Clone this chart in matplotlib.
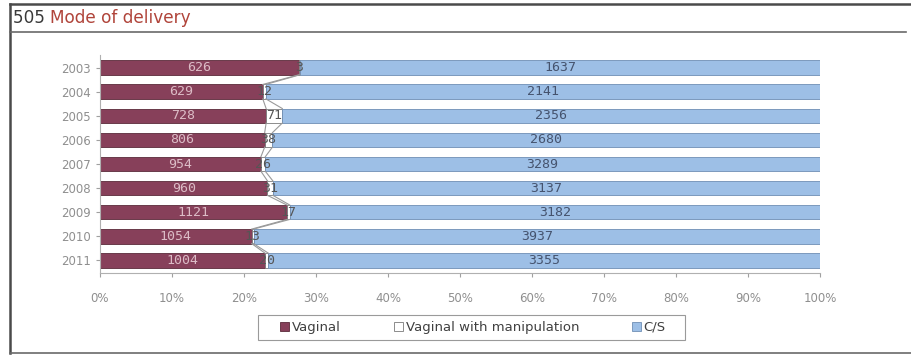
import matplotlib
matplotlib.use("Agg")
import matplotlib.pyplot as plt
import numpy as np
from matplotlib.lines import Line2D
from matplotlib.patches import Patch, Rectangle

years = ["2003", "2004", "2005", "2006", "2007", "2008", "2009", "2010", "2011"]
vaginal = [626, 629, 728, 806, 954, 960, 1121, 1054, 1004]
manipulation = [3, 12, 71, 38, 26, 31, 17, 13, 20]
cs = [1637, 2141, 2356, 2680, 3289, 3137, 3182, 3937, 3355]
x_ticks = [0, 10, 20, 30, 40, 50, 60, 70, 80, 90, 100]
x_tick_labels = [f"{v}%" for v in x_ticks]

c_vag = "#87405a"
c_man = "#ffffff"
c_cs = "#9dbfe6"
edge = "#7a7a7a"

W, H = 912, 355
fig = plt.figure(figsize=(W / 100, H / 100), dpi=100)
fig.patch.set_facecolor("white")

ax = fig.add_axes([100 / W, 1 - 272.5 / H, 720 / W, 217 / H])

v = np.array(vaginal, float)
m = np.array(manipulation, float)
c = np.array(cs, float)
tot = v + m + c
pv, pm, pc = v / tot * 100, m / tot * 100, c / tot * 100
y = np.arange(len(years))
h = 0.6

ax.barh(y, pv, height=h, color=c_vag, edgecolor="#5a2a3a", linewidth=0.6)
ax.barh(y, pm, left=pv, height=h, color=c_man, edgecolor=edge, linewidth=0.6)
ax.barh(y, pc, left=pv + pm, height=h, color=c_cs, edgecolor="#6f8fb5", linewidth=0.6)

# series lines
for b in [pv, pv + pm]:
    for i in range(len(years) - 1):
        ax.plot([b[i], b[i + 1]], [y[i] + h / 2, y[i + 1] - h / 2],
                color="#9a9a9a", linewidth=0.8, zorder=1)

mono = "DejaVu Sans Mono"
for i in range(len(years)):
    ax.text(pv[i] / 2, y[i], str(vaginal[i]), ha="center", va="center",
            fontsize=9.5, color="#dcbcc6", family=mono)
    ax.text(pv[i] + pm[i] / 2, y[i], str(manipulation[i]), ha="center", va="center",
            fontsize=9.5, color="#555555", family=mono)
    ax.text(pv[i] + pm[i] + pc[i] / 2, y[i], str(cs[i]), ha="center", va="center",
            fontsize=9.5, color="#45536e", family=mono)

ax.set_xlim(0, 100)
ax.set_ylim(len(years) - 0.5, -0.5)
ax.set_yticks(y)
ax.set_yticklabels(years)
ax.set_xticks(x_ticks)
ax.set_xticklabels(x_tick_labels)
ax.tick_params(axis="both", labelsize=8.5, colors="#a0a0a0", labelcolor="#8f8f8f")
ax.tick_params(axis="y", length=3, pad=3.5)
ax.tick_params(axis="x", length=3, pad=11)
for s in ["top", "right"]:
    ax.spines[s].set_visible(False)
for s in ["left", "bottom"]:
    ax.spines[s].set_color("#b0b0b0")
    ax.spines[s].set_linewidth(0.8)

handles = [Patch(facecolor=c_vag, edgecolor="#5a2a3a", linewidth=0.6),
           Patch(facecolor=c_man, edgecolor=edge, linewidth=0.6),
           Patch(facecolor=c_cs, edgecolor="#6f8fb5", linewidth=0.6)]
leg = fig.legend(handles, ["Vaginal", "Vaginal with manipulation", "C/S"],
                 loc="center", bbox_to_anchor=(473 / W, 1 - 327.5 / H),
                 ncol=3, frameon=False, fontsize=9.5,
                 handlelength=0.7, handleheight=0.7, handletextpad=0.2,
                 columnspacing=4.0, borderpad=0.4, borderaxespad=0,
                 labelcolor="#404040")
fig.add_artist(Rectangle((258 / W, 1 - 340 / H), 427 / W, 25 / H,
                         transform=fig.transFigure, fill=False,
                         edgecolor="#9a9a9a", linewidth=0.8))

# frame lines
def fl(x0, y0, x1, y1, lw=1.8, col="#4a4a4a"):
    fig.add_artist(Line2D([x0 / W, x1 / W], [1 - y0 / H, 1 - y1 / H],
                          color=col, linewidth=lw, transform=fig.transFigure))

fl(10, 4, W, 4)
fl(10, 4, 10, 353)
fl(10, 353, W, 353, lw=1.2, col="#6a6a6a")
fl(10, 32, W - 6, 32, lw=1.2, col="#6a6a6a")

# title
t1 = fig.text(13 / W, 1 - 18 / H, "505 ", fontsize=12.2, color="#3a3a3a",
              va="center", ha="left")
fig.canvas.draw()
bb = t1.get_window_extent(renderer=fig.canvas.get_renderer())
fig.text(bb.x1 / W, 1 - 18 / H, "Mode of delivery", fontsize=12.2,
         color="#b0443a", va="center", ha="left")

fig.savefig("out.png", dpi=100)
